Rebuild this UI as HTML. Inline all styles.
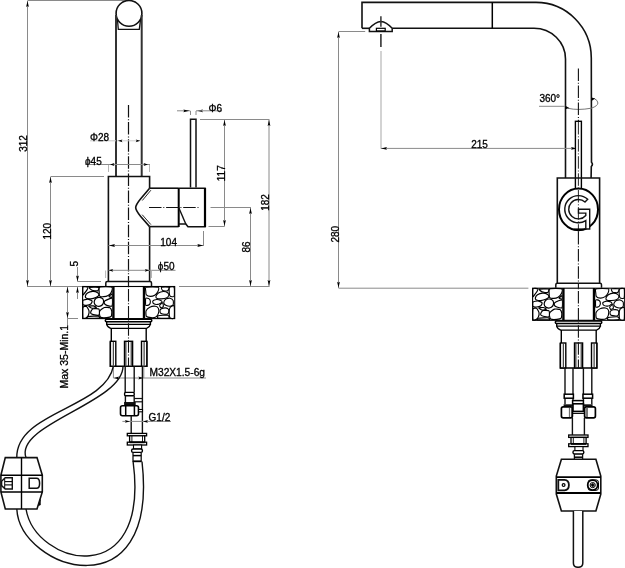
<!DOCTYPE html>
<html><head><meta charset="utf-8"><style>
html,body{margin:0;padding:0;background:#fff;}
svg{display:block;will-change:transform;}
text{font-family:"Liberation Sans",sans-serif;fill:#000;stroke:#000;stroke-width:0.3px;}
</style></head><body>
<svg width="625" height="568" viewBox="0 0 625 568">
<rect width="625" height="568" fill="#fff"/>
<line x1="27.5" y1="0.5" x2="130" y2="0.5" stroke="#8a8a8a" stroke-width="1" />
<line x1="27.5" y1="1" x2="27.5" y2="286.5" stroke="#8a8a8a" stroke-width="1" />
<path d="M27.50,1.00 L26.10,7.00 L27.50,6.00 L28.90,7.00 Z" fill="#000" stroke="none"/>
<path d="M27.50,286.00 L26.10,280.00 L27.50,281.00 L28.90,280.00 Z" fill="#000" stroke="none"/>
<text x="0" y="0" transform="translate(26.8,151.8) rotate(-90)" font-size="10" text-anchor="start">312</text>
<line x1="27" y1="286.5" x2="82" y2="286.5" stroke="#8a8a8a" stroke-width="1" />
<line x1="50.5" y1="176.5" x2="104" y2="176.5" stroke="#8a8a8a" stroke-width="1" />
<line x1="50.5" y1="177" x2="50.5" y2="286.5" stroke="#8a8a8a" stroke-width="1" />
<path d="M50.50,177.00 L49.10,183.00 L50.50,182.00 L51.90,183.00 Z" fill="#000" stroke="none"/>
<path d="M50.50,286.00 L49.10,280.00 L50.50,281.00 L51.90,280.00 Z" fill="#000" stroke="none"/>
<text x="0" y="0" transform="translate(50.5,239.6) rotate(-90)" font-size="10" text-anchor="start">120</text>
<line x1="77.5" y1="267" x2="77.5" y2="281.5" stroke="#8a8a8a" stroke-width="1" />
<path d="M77.50,281.50 L76.10,275.50 L77.50,276.50 L78.90,275.50 Z" fill="#000" stroke="none"/>
<line x1="77.5" y1="281.5" x2="101" y2="281.5" stroke="#8a8a8a" stroke-width="1" />
<line x1="77.5" y1="286.5" x2="77.5" y2="299" stroke="#8a8a8a" stroke-width="1" />
<path d="M77.50,287.00 L76.10,293.00 L77.50,292.00 L78.90,293.00 Z" fill="#000" stroke="none"/>
<text x="0" y="0" transform="translate(77.5,266.5) rotate(-90)" font-size="10" text-anchor="start">5</text>
<line x1="67.5" y1="287" x2="67.5" y2="325" stroke="#8a8a8a" stroke-width="1" />
<path d="M67.50,287.00 L66.10,293.00 L67.50,292.00 L68.90,293.00 Z" fill="#000" stroke="none"/>
<path d="M67.50,318.00 L66.10,312.00 L67.50,313.00 L68.90,312.00 Z" fill="#000" stroke="none"/>
<line x1="67.5" y1="318.5" x2="78" y2="318.5" stroke="#8a8a8a" stroke-width="1" />
<text x="0" y="0" transform="translate(67.8,388.5) rotate(-90)" font-size="10.5" text-anchor="start">Max 35-Min.1</text>
<circle cx="129" cy="13.4" r="12.9" stroke="#111" stroke-width="1.6" fill="#fff"/>
<line x1="116" y1="15" x2="116" y2="176.5" stroke="#333" stroke-width="2" />
<line x1="141.7" y1="15" x2="141.7" y2="176.5" stroke="#333" stroke-width="2" />
<path d="M117.4,19 L118.3,29.3 L139.3,29.3 L140.6,19" stroke="#111" stroke-width="1.3" fill="none" />
<line x1="128.5" y1="105" x2="128.5" y2="286" stroke="#111" stroke-width="1.2" stroke-dasharray="12.5,1.8,1,1.8"/>
<line x1="90" y1="140.8" x2="116" y2="140.8" stroke="#c8c8c8" stroke-width="1" />
<line x1="117" y1="140.8" x2="141" y2="140.8" stroke="#cfcfcf" stroke-width="1" />
<path d="M118.00,140.80 L122.50,139.40 L121.50,140.80 L122.50,142.20 Z" fill="#000" stroke="none"/>
<path d="M140.20,140.80 L135.70,139.40 L136.70,140.80 L135.70,142.20 Z" fill="#000" stroke="none"/>
<text x="90" y="141" font-size="10" text-anchor="start">Φ28</text>
<line x1="85" y1="164.5" x2="150" y2="164.5" stroke="#8a8a8a" stroke-width="1" />
<line x1="108.5" y1="165" x2="108.5" y2="172" stroke="#b5b5b5" stroke-width="1" />
<line x1="149.5" y1="165" x2="149.5" y2="172" stroke="#b5b5b5" stroke-width="1" />
<path d="M110.00,164.50 L114.50,163.10 L113.50,164.50 L114.50,165.90 Z" fill="#000" stroke="none"/>
<path d="M148.00,164.50 L143.50,163.10 L144.50,164.50 L143.50,165.90 Z" fill="#000" stroke="none"/>
<text x="85" y="165" font-size="10" text-anchor="start">ϕ45</text>
<path d="M108.4,281.5 L108.4,176.5 L149.6,176.5 L149.6,188.2" stroke="#111" stroke-width="1.6" fill="none" />
<path d="M149.6,226.6 L149.6,281.5" stroke="#111" stroke-width="1.6" fill="none" />
<path d="M149.6,188.2 L140.5,199 C136.8,203.5 135.7,205.8 135.7,207.6 C135.7,209.5 136.8,211.8 140.5,216.2 L149.6,226.6" stroke="#111" stroke-width="1.6" fill="none" />
<path d="M150.9,190.2 L142.3,200.5" stroke="#111" stroke-width="0.9" fill="none" />
<path d="M142.2,214.7 L150.9,224.6" stroke="#111" stroke-width="0.9" fill="none" />
<path d="M149.6,188.2 L178.7,188.2" stroke="#111" stroke-width="1.6" fill="none" />
<path d="M149.6,226.6 L178.7,226.6" stroke="#111" stroke-width="1.6" fill="none" />
<line x1="178.7" y1="188" x2="178.7" y2="227" stroke="#000" stroke-width="2" />
<path d="M178.7,188.2 L205,188.2 L205,226.8 L188,226.8 L185.8,224 L178.7,224" stroke="#111" stroke-width="1.6" fill="none" />
<line x1="205" y1="188" x2="205" y2="227" stroke="#000" stroke-width="2.2" />
<path d="M178.7,207.5 L185.8,224" stroke="#111" stroke-width="1.4" fill="none" />
<path d="M190.5,187.5 L190.5,119.2 L196,119.2 L196,187.5" stroke="#111" stroke-width="1.5" fill="none" />
<line x1="149" y1="207.5" x2="200" y2="207.5" stroke="#111" stroke-width="1.1" stroke-dasharray="12.5,1.8,1,1.8"/>
<line x1="177" y1="110.8" x2="190.3" y2="110.8" stroke="#8a8a8a" stroke-width="1" />
<path d="M189.30,110.80 L183.30,109.40 L184.30,110.80 L183.30,112.20 Z" fill="#000" stroke="none"/>
<line x1="190.5" y1="111" x2="190.5" y2="115" stroke="#8a8a8a" stroke-width="1" />
<line x1="196" y1="111" x2="196" y2="115" stroke="#8a8a8a" stroke-width="1" />
<path d="M197.00,110.80 L203.00,109.40 L202.00,110.80 L203.00,112.20 Z" fill="#000" stroke="none"/>
<line x1="196" y1="110.8" x2="222" y2="110.8" stroke="#8a8a8a" stroke-width="1" />
<text x="208.5" y="111.8" font-size="10" text-anchor="start">Φ6</text>
<line x1="200" y1="119.5" x2="269.5" y2="119.5" stroke="#8a8a8a" stroke-width="1" />
<line x1="224.5" y1="120" x2="224.5" y2="226.5" stroke="#8a8a8a" stroke-width="1" />
<path d="M224.50,120.00 L223.10,126.00 L224.50,125.00 L225.90,126.00 Z" fill="#000" stroke="none"/>
<path d="M224.50,226.00 L223.10,220.00 L224.50,221.00 L225.90,220.00 Z" fill="#000" stroke="none"/>
<line x1="208.5" y1="226.5" x2="224.5" y2="226.5" stroke="#8a8a8a" stroke-width="1" />
<text x="0" y="0" transform="translate(224.8,181.2) rotate(-90)" font-size="10" text-anchor="start">117</text>
<line x1="269" y1="120" x2="269" y2="286.5" stroke="#8a8a8a" stroke-width="1" />
<path d="M269.00,120.00 L267.60,126.00 L269.00,125.00 L270.40,126.00 Z" fill="#000" stroke="none"/>
<path d="M269.00,286.00 L267.60,280.00 L269.00,281.00 L270.40,280.00 Z" fill="#000" stroke="none"/>
<text x="0" y="0" transform="translate(268.5,210.8) rotate(-90)" font-size="10" text-anchor="start">182</text>
<line x1="210.5" y1="207.5" x2="251" y2="207.5" stroke="#8a8a8a" stroke-width="1" />
<line x1="250.5" y1="208" x2="250.5" y2="286.5" stroke="#8a8a8a" stroke-width="1" />
<path d="M250.50,208.00 L249.10,214.00 L250.50,213.00 L251.90,214.00 Z" fill="#000" stroke="none"/>
<path d="M250.50,286.00 L249.10,280.00 L250.50,281.00 L251.90,280.00 Z" fill="#000" stroke="none"/>
<text x="0" y="0" transform="translate(250.2,252.5) rotate(-90)" font-size="10" text-anchor="start">86</text>
<line x1="179" y1="286.5" x2="269.5" y2="286.5" stroke="#8a8a8a" stroke-width="1" />
<line x1="108.5" y1="245.5" x2="203.8" y2="245.5" stroke="#8a8a8a" stroke-width="1" />
<path d="M109.00,245.50 L115.00,244.10 L114.00,245.50 L115.00,246.90 Z" fill="#000" stroke="none"/>
<path d="M203.30,245.50 L197.30,244.10 L198.30,245.50 L197.30,246.90 Z" fill="#000" stroke="none"/>
<line x1="203.5" y1="231" x2="203.5" y2="246" stroke="#8a8a8a" stroke-width="1" />
<text x="160.3" y="245.8" font-size="10" text-anchor="start">104</text>
<line x1="108.5" y1="270.3" x2="175.5" y2="270.3" stroke="#8a8a8a" stroke-width="1" />
<path d="M108.70,270.30 L113.20,268.90 L112.20,270.30 L113.20,271.70 Z" fill="#000" stroke="none"/>
<path d="M149.30,270.30 L144.80,268.90 L145.80,270.30 L144.80,271.70 Z" fill="#000" stroke="none"/>
<line x1="105.6" y1="270.5" x2="105.6" y2="278" stroke="#b5b5b5" stroke-width="1" />
<line x1="151.5" y1="270.5" x2="151.5" y2="278" stroke="#b5b5b5" stroke-width="1" />
<text x="157.8" y="270.4" font-size="10" text-anchor="start">ϕ50</text>
<path d="M105.8,285.9 L105.8,283 Q105.8,281.5 107.3,281.5 L150,281.5 Q151.5,281.5 151.5,283 L151.5,285.9" stroke="#111" stroke-width="1.5" fill="none" />
<g id="base"><rect x="82.5" y="286.3" width="92.2" height="32.3" fill="#fff" stroke="none"/><path d="M85.31,296.39 C85.40,295.87 86.73,293.50 87.47,293.00 C88.20,292.51 91.68,291.50 92.70,291.47 C93.72,291.43 97.01,292.33 97.63,292.70 C98.24,293.07 99.04,294.67 98.86,295.16 C98.67,295.65 96.58,297.25 95.78,297.62 C94.98,297.99 91.78,298.79 90.85,298.85 C89.93,298.92 87.10,298.49 86.54,298.24 C85.99,297.99 85.22,296.92 85.31,296.39 Z" fill="#fff" stroke="#000" stroke-width="1.2"/><path d="M99.78,287.16 C101.04,286.63 110.65,286.63 111.79,287.16 C112.93,287.68 111.54,291.56 111.17,292.39 C110.80,293.22 108.83,295.04 108.09,295.47 C107.35,295.90 104.61,296.64 103.78,296.70 C102.95,296.76 100.24,296.51 99.78,296.08 C99.32,295.65 99.17,293.28 99.17,292.39 C99.17,291.50 98.52,287.68 99.78,287.16 Z" fill="#fff" stroke="#000" stroke-width="1.2"/><path d="M94.24,301.32 C94.36,300.70 95.56,298.64 96.09,298.24 C96.61,297.84 98.80,297.25 99.47,297.32 C100.15,297.38 102.46,298.33 102.86,298.85 C103.26,299.38 103.63,301.87 103.48,302.55 C103.32,303.23 101.91,305.26 101.32,305.63 C100.74,306.00 98.27,306.37 97.63,306.24 C96.98,306.12 95.19,304.89 94.85,304.40 C94.52,303.90 94.12,301.93 94.24,301.32 Z" fill="#fff" stroke="#000" stroke-width="1.2"/><path d="M99.78,310.86 C100.27,310.18 103.38,307.78 104.40,307.48 C105.42,307.17 109.20,307.38 109.94,307.78 C110.68,308.18 111.67,310.62 111.79,311.48 C111.91,312.34 111.67,315.79 111.17,316.40 C110.68,317.02 107.91,317.54 106.86,317.64 C105.82,317.73 101.44,317.67 100.70,317.33 C99.97,316.99 99.57,314.90 99.47,314.25 C99.38,313.60 99.29,311.54 99.78,310.86 Z" fill="#fff" stroke="#000" stroke-width="1.2"/><path d="M91.16,310.86 C91.41,310.40 92.55,308.89 93.32,308.71 C94.08,308.52 98.24,308.68 98.86,309.01 C99.47,309.35 99.47,311.48 99.47,312.09 C99.47,312.71 99.47,314.93 98.86,315.17 C98.24,315.42 94.12,314.74 93.32,314.56 C92.51,314.37 91.07,313.69 90.85,313.33 C90.64,312.96 90.91,311.32 91.16,310.86 Z" fill="#fff" stroke="#000" stroke-width="1.2"/><path d="M82.97,300.39 C83.45,299.84 86.86,299.10 87.77,299.16 C88.68,299.22 91.78,300.52 92.08,301.01 C92.39,301.50 91.41,303.66 90.85,304.09 C90.30,304.52 87.33,305.26 86.54,305.32 C85.75,305.38 83.33,305.20 82.97,304.70 C82.61,304.21 82.49,300.95 82.97,300.39 Z" fill="#fff" stroke="#000" stroke-width="1.2"/><path d="M82.97,307.48 C83.33,306.34 85.94,306.21 86.54,306.55 C87.15,306.89 88.82,310.00 89.00,310.86 C89.19,311.72 88.70,314.46 88.39,315.17 C88.08,315.88 86.47,317.67 85.93,317.94 C85.38,318.22 83.27,318.99 82.97,317.94 C82.67,316.90 82.61,308.61 82.97,307.48 Z" fill="#fff" stroke="#000" stroke-width="1.2"/><path d="M82.97,286.97 C83.45,286.18 87.35,286.71 87.77,286.97 C88.19,287.24 87.47,289.01 87.16,289.62 C86.85,290.22 85.11,292.48 84.69,293.00 C84.28,293.53 83.14,295.46 82.97,294.85 C82.80,294.25 82.49,287.76 82.97,286.97 Z" fill="#fff" stroke="#000" stroke-width="1.2"/><path d="M89.31,287.46 C89.96,287.17 97.72,287.00 98.55,287.34 C99.38,287.68 98.27,290.56 97.63,290.85 C96.98,291.14 92.92,290.57 92.08,290.23 C91.25,289.90 88.67,287.75 89.31,287.46 Z" fill="#fff" stroke="#000" stroke-width="1.2"/><path d="M105.01,300.70 C105.78,300.18 111.39,297.72 112.10,298.24 C112.80,298.76 112.62,305.23 112.10,305.94 C111.57,306.64 107.63,305.57 106.86,305.32 C106.09,305.07 104.58,303.93 104.40,303.47 C104.21,303.01 104.25,301.23 105.01,300.70 Z" fill="#fff" stroke="#000" stroke-width="1.2"/><path d="M88.39,316.53 C89.47,316.32 97.13,315.94 98.24,316.10 C99.35,316.26 100.55,317.92 99.47,318.13 C98.40,318.33 88.57,318.29 87.47,318.13 C86.36,317.97 87.31,316.73 88.39,316.53 Z" fill="#fff" stroke="#000" stroke-width="1.2"/><path d="M88.70,306.24 C88.82,306.00 92.55,305.69 93.32,305.81 C94.08,305.94 96.52,307.23 96.39,307.48 C96.27,307.72 92.85,308.40 92.08,308.28 C91.31,308.15 88.57,306.49 88.70,306.24 Z" fill="#fff" stroke="#000" stroke-width="1.2"/><path d="M109.02,296.39 C109.02,296.05 111.79,293.84 112.10,293.93 C112.40,294.02 112.40,297.07 112.10,297.32 C111.79,297.56 109.02,296.73 109.02,296.39 Z" fill="#fff" stroke="#000" stroke-width="1.2"/><path d="M146.08,287.16 C147.34,286.75 157.22,286.69 158.39,287.16 C159.56,287.62 158.15,290.97 157.78,291.77 C157.41,292.57 155.44,294.70 154.70,295.16 C153.96,295.62 151.22,296.42 150.39,296.39 C149.56,296.36 146.85,295.38 146.39,294.85 C145.92,294.33 145.80,291.93 145.77,291.16 C145.74,290.39 144.82,287.56 146.08,287.16 Z" fill="#fff" stroke="#000" stroke-width="1.1"/><path d="M155.93,296.39 C156.05,295.84 157.66,293.50 158.39,293.00 C159.13,292.51 162.40,291.50 163.32,291.47 C164.24,291.43 167.08,292.30 167.63,292.70 C168.18,293.10 168.99,294.94 168.86,295.47 C168.74,295.99 167.14,297.59 166.40,297.93 C165.66,298.27 162.40,298.79 161.47,298.85 C160.55,298.92 157.72,298.79 157.16,298.55 C156.61,298.30 155.81,296.95 155.93,296.39 Z" fill="#fff" stroke="#000" stroke-width="1.1"/><path d="M169.60,287.16 C170.09,286.69 173.65,286.23 174.10,287.16 C174.55,288.08 174.50,295.50 174.10,296.39 C173.70,297.28 170.59,296.55 170.09,296.08 C169.60,295.62 169.22,292.67 169.17,291.77 C169.12,290.88 169.11,287.62 169.60,287.16 Z" fill="#fff" stroke="#000" stroke-width="1.1"/><path d="M161.47,287.16 C162.09,286.82 168.25,286.79 168.86,287.16 C169.48,287.52 168.25,290.51 167.63,290.85 C167.01,291.19 163.32,290.91 162.70,290.54 C162.09,290.17 160.86,287.49 161.47,287.16 Z" fill="#fff" stroke="#000" stroke-width="1.1"/><path d="M164.24,301.01 C164.49,300.55 165.81,299.13 166.40,298.85 C166.98,298.58 169.42,298.08 170.09,298.24 C170.77,298.39 172.86,299.75 173.17,300.39 C173.48,301.04 173.48,304.12 173.17,304.70 C172.86,305.29 170.83,306.18 170.09,306.24 C169.35,306.31 166.40,305.60 165.78,305.32 C165.17,305.04 164.09,303.90 163.94,303.47 C163.78,303.04 164.00,301.47 164.24,301.01 Z" fill="#fff" stroke="#000" stroke-width="1.1"/><path d="M145.77,298.24 C146.11,297.59 148.70,298.52 149.16,298.85 C149.62,299.19 150.39,301.04 150.39,301.63 C150.39,302.21 149.62,304.33 149.16,304.70 C148.70,305.07 146.11,305.97 145.77,305.32 C145.43,304.67 145.43,298.89 145.77,298.24 Z" fill="#fff" stroke="#000" stroke-width="1.1"/><path d="M152.85,301.01 C153.16,300.61 155.75,299.53 156.55,299.47 C157.35,299.41 160.30,300.12 160.86,300.39 C161.41,300.67 162.40,301.84 162.09,302.24 C161.78,302.64 158.64,304.27 157.78,304.40 C156.92,304.52 153.96,303.81 153.47,303.47 C152.98,303.13 152.54,301.41 152.85,301.01 Z" fill="#fff" stroke="#000" stroke-width="1.1"/><path d="M146.08,310.86 C146.42,309.94 148.85,307.63 149.77,307.17 C150.70,306.71 154.45,306.12 155.32,306.24 C156.18,306.37 158.09,307.69 158.39,308.40 C158.70,309.11 158.64,312.46 158.39,313.33 C158.15,314.19 156.67,316.59 155.93,317.02 C155.19,317.45 151.96,317.70 151.00,317.64 C150.05,317.57 146.88,317.08 146.39,316.40 C145.89,315.73 145.74,311.79 146.08,310.86 Z" fill="#fff" stroke="#000" stroke-width="1.1"/><path d="M160.24,309.63 C160.55,309.17 162.58,308.21 163.32,308.09 C164.06,307.97 167.08,308.12 167.63,308.40 C168.18,308.68 168.86,310.31 168.86,310.86 C168.86,311.42 168.25,313.63 167.63,313.94 C167.01,314.25 163.44,314.06 162.70,313.94 C161.97,313.82 160.49,313.14 160.24,312.71 C160.00,312.28 159.93,310.09 160.24,309.63 Z" fill="#fff" stroke="#000" stroke-width="1.1"/><path d="M170.09,307.48 C170.59,306.80 173.70,304.89 174.10,305.94 C174.50,306.98 174.50,316.74 174.10,317.94 C173.70,319.14 170.59,318.47 170.09,317.94 C169.60,317.42 169.17,313.76 169.17,312.71 C169.17,311.66 169.60,308.15 170.09,307.48 Z" fill="#fff" stroke="#000" stroke-width="1.1"/><path d="M158.39,315.79 C159.35,315.49 166.58,314.96 167.63,315.17 C168.68,315.39 169.82,317.65 168.86,317.94 C167.91,318.24 159.13,318.34 158.09,318.13 C157.04,317.91 157.44,316.08 158.39,315.79 Z" fill="#fff" stroke="#000" stroke-width="1.1"/><path d="M159.63,305.32 C159.81,304.83 162.33,302.73 162.70,302.86 C163.07,302.98 163.50,306.06 163.32,306.55 C163.14,307.04 161.23,307.91 160.86,307.78 C160.49,307.66 159.44,305.81 159.63,305.32 Z" fill="#fff" stroke="#000" stroke-width="1.1"/><rect x="112.6" y="286.3" width="32" height="32.3" fill="#fff" stroke="none"/><line x1="113.4" y1="286.3" x2="113.4" y2="318.6" stroke="#000" stroke-width="2.4"/><line x1="144" y1="286.3" x2="144" y2="318.6" stroke="#000" stroke-width="2.4"/><rect x="82.6" y="286.5" width="92.1" height="32.1" fill="none" stroke="#000" stroke-width="1.1"/><path d="M106.5,321.8 Q105.3,321.8 105.3,320.6 Q105.3,319.3 106.5,319.3 L150.6,319.3 Q151.8,319.3 151.8,320.6 Q151.8,321.8 150.6,321.8 Z" fill="#fff" stroke="#000" stroke-width="1.5"/><path d="M106.7,321.8 L106.7,324.4 L150.4,324.4 L150.4,321.8" fill="none" stroke="#000" stroke-width="1.4"/><path d="M106.7,324.4 Q107.5,327.5 110.8,328.4 L146.6,328.4 Q149.6,327.5 150.4,324.4" fill="none" stroke="#000" stroke-width="1.4"/><line x1="111.3" y1="328.4" x2="111.3" y2="341.3" stroke="#000" stroke-width="1.4"/><line x1="146.2" y1="328.4" x2="146.2" y2="341.3" stroke="#000" stroke-width="1.4"/><path d="M110.4,341.3 L110.4,366.2 L146.8,366.2 L146.8,341.3" fill="none" stroke="#000" stroke-width="1.5"/><rect x="110.4" y="341.3" width="5.4" height="24.9" fill="#fff" stroke="#000" stroke-width="1.4"/><rect x="124.5" y="341.3" width="8.1" height="24.9" fill="#fff" stroke="#000" stroke-width="1.4"/><rect x="141.5" y="341.3" width="5.3" height="24.9" fill="#fff" stroke="#000" stroke-width="1.4"/><line x1="113.3" y1="342" x2="113.3" y2="365.5" stroke="#000" stroke-width="0.9"/><line x1="125.9" y1="342" x2="125.9" y2="365.5" stroke="#000" stroke-width="0.9"/><line x1="131.2" y1="342" x2="131.2" y2="365.5" stroke="#000" stroke-width="0.9"/><line x1="144.1" y1="342" x2="144.1" y2="365.5" stroke="#000" stroke-width="0.9"/></g>
<use href="#base" transform="translate(450,1.7)"/>
<line x1="128.5" y1="286" x2="128.5" y2="366" stroke="#111" stroke-width="1.1" stroke-dasharray="12.5,1.8,1,1.8" stroke-dashoffset="-3"/>
<line x1="578.4" y1="288" x2="578.4" y2="368" stroke="#111" stroke-width="1.1" stroke-dasharray="12.5,1.8,1,1.8" stroke-dashoffset="-3"/>
<line x1="113.4" y1="366.5" x2="113.4" y2="378" stroke="#8a8a8a" stroke-width="1" />
<line x1="143.8" y1="366.5" x2="143.8" y2="378" stroke="#8a8a8a" stroke-width="1" />
<line x1="113.4" y1="378" x2="206" y2="378" stroke="#8a8a8a" stroke-width="1" />
<path d="M114.00,378.00 L119.00,376.60 L118.00,378.00 L119.00,379.40 Z" fill="#000" stroke="none"/>
<path d="M143.30,378.00 L138.30,376.60 L139.30,378.00 L138.30,379.40 Z" fill="#000" stroke="none"/>
<text x="149.5" y="376" font-size="10.2" text-anchor="start">M32X1.5-6g</text>
<path d="M113.4,366.2 C105.6,408.2 15.9,411.5 16.8,457.6" stroke="#111" stroke-width="1.4" fill="none" />
<path d="M123,366.2 C123.2,402.5 14.1,424.4 26,457.6" stroke="#111" stroke-width="1.4" fill="none" />
<path d="M125.2,366.2 L125.2,392.4" stroke="#111" stroke-width="1.4" fill="none" />
<path d="M134.2,366.2 L134.2,392.4" stroke="#111" stroke-width="1.4" fill="none" />
<rect x="124.6" y="392.4" width="9.6" height="3.4" rx="1" fill="#fff" stroke="#000" stroke-width="1.4"/>
<path d="M125.4,395.8 L125.4,402.6" stroke="#111" stroke-width="1.4" fill="none" />
<path d="M134.2,395.8 L134.2,402.6" stroke="#111" stroke-width="1.4" fill="none" />
<path d="M142.4,366.2 L142.4,433.3" stroke="#111" stroke-width="1.4" fill="none" />
<path d="M134.2,398.5 L142.4,398.5" stroke="#111" stroke-width="1.2" fill="none" />
<path d="M134.2,401.8 L142.4,401.8" stroke="#111" stroke-width="1.2" fill="none" />
<rect x="124.6" y="402.4" width="10.6" height="2.6" fill="#111" stroke="#000" stroke-width="0.8"/>
<rect x="120.5" y="405.8" width="18" height="9.9" rx="2" fill="#fff" stroke="#000" stroke-width="1.6"/>
<line x1="125.7" y1="406" x2="125.7" y2="415.5" stroke="#000" stroke-width="1.5" />
<line x1="134.4" y1="406" x2="134.4" y2="415.5" stroke="#000" stroke-width="1.5" />
<rect x="138.5" y="409.5" width="4" height="2.3" fill="#fff" stroke="#000" stroke-width="1.1"/>
<path d="M131.2,415.7 L131.2,433.3" stroke="#111" stroke-width="1.4" fill="none" />
<line x1="122.4" y1="421.4" x2="171" y2="421.4" stroke="#8a8a8a" stroke-width="1" />
<path d="M129.90,421.40 L124.90,420.00 L125.90,421.40 L124.90,422.80 Z" fill="#000" stroke="none"/>
<path d="M143.00,421.40 L148.00,420.00 L147.00,421.40 L148.00,422.80 Z" fill="#000" stroke="none"/>
<text x="148.6" y="421.1" font-size="10" text-anchor="start">G1/2</text>
<g id="fit">
<rect x="127.3" y="433.4" width="19.3" height="2.4" fill="#fff" stroke="#000" stroke-width="1.3"/>
<rect x="129.6" y="435.8" width="15.1" height="6.4" fill="#fff" stroke="#000" stroke-width="1.3"/>
<line x1="131.9" y1="436" x2="131.9" y2="442" stroke="#000" stroke-width="0.9" />
<line x1="142.5" y1="436" x2="142.5" y2="442" stroke="#000" stroke-width="0.9" />
<rect x="127.3" y="442.2" width="19.3" height="2.8" fill="#fff" stroke="#000" stroke-width="1.3"/>
<line x1="129.6" y1="442.4" x2="144.7" y2="442.4" stroke="#000" stroke-width="1.6" />
<rect x="133.5" y="445" width="8.1" height="4" fill="#fff" stroke="#000" stroke-width="1.1"/>
<rect x="131.6" y="449" width="10.8" height="3.4" rx="1.4" fill="#fff" stroke="#000" stroke-width="1.4"/>
<path d="M133,452.4 L133,462" stroke="#111" stroke-width="1.3" fill="none" />
<path d="M141.2,452.4 L141.2,462" stroke="#111" stroke-width="1.3" fill="none" />
<line x1="133" y1="455.6" x2="141.2" y2="455.6" stroke="#000" stroke-width="1.5" />
<line x1="133" y1="461.3" x2="141.2" y2="461.3" stroke="#000" stroke-width="1.8" />
</g>
<path d="M16.8,509 C20.0,570.2 159.4,614.1 142,461.5" stroke="#111" stroke-width="1.4" fill="none" />
<path d="M26,509 C35.5,565.9 150.6,592.7 133.1,461.5" stroke="#111" stroke-width="1.4" fill="none" />
<path d="M5.3,457.6 L37,457.6 L42.3,475.2 L42.3,492 L37,509 L5.3,509 L0.9,492 L0.9,475.2 Z" stroke="#111" stroke-width="1.6" fill="#fff" />
<line x1="21.5" y1="457.6" x2="21.5" y2="509" stroke="#000" stroke-width="1.4" />
<line x1="0.9" y1="475.2" x2="42.3" y2="475.2" stroke="#000" stroke-width="1.5" />
<line x1="0.9" y1="492" x2="42.3" y2="492" stroke="#000" stroke-width="1.5" />
<path d="M29.2,478.2 L36.5,478.2 Q39.6,478.2 39.6,483.2 Q39.6,488.3 36.5,488.3 L29.2,488.3 Z" stroke="#111" stroke-width="1.5" fill="none" />
<path d="M12.3,477.8 L5.2,477.8 L1.6,481.2 L1.6,485.6 L5.2,489 L12.3,489 Z" stroke="#111" stroke-width="1.4" fill="none" />
<line x1="4.7" y1="478.5" x2="4.7" y2="488.3" stroke="#000" stroke-width="1" />
<line x1="5" y1="481.6" x2="12" y2="481.6" stroke="#000" stroke-width="1.1" />
<line x1="5" y1="484.9" x2="12" y2="484.9" stroke="#000" stroke-width="1.1" />
<path d="M38.2,505.5 L40.3,499.5 L40.3,505 Z" stroke="#111" stroke-width="0.8" fill="#000" />
<path d="M362,28.3 L362,2.4 L536,2.4 A55.4,55.6 0 0 1 591.3,58 L591.5,162.2 Q593.4,164.3 591.3,166.5 L591.1,178" stroke="#111" stroke-width="1.6" fill="none" />
<path d="M369.2,28.3 L362,28.3" stroke="#111" stroke-width="1.6" fill="none" />
<path d="M392.4,28.3 L534,28.3 A31.5,30.7 0 0 1 565.5,59 L565.5,178" stroke="#111" stroke-width="1.6" fill="none" />
<line x1="492.3" y1="2.4" x2="492.3" y2="28.3" stroke="#000" stroke-width="1.5" />
<path d="M369.4,31.4 L392.2,31.4 L392.2,28.3 C389.5,25.3 385,21.6 380.9,21.4 C377,21.6 372.2,25.3 369.4,28.3 Z" stroke="#111" stroke-width="1.5" fill="#fff" />
<rect x="376.4" y="28.3" width="8.8" height="2.6" fill="#fff" stroke="#000" stroke-width="1.2"/>
<line x1="380.9" y1="16.2" x2="380.9" y2="26.7" stroke="#333" stroke-width="1.5" />
<line x1="380.9" y1="34" x2="380.9" y2="47" stroke="#333" stroke-width="1.6" />
<line x1="381" y1="51" x2="381" y2="148.8" stroke="#bcbcbc" stroke-width="1.3" />
<line x1="338.5" y1="31.5" x2="365.2" y2="31.5" stroke="#8a8a8a" stroke-width="1" />
<line x1="338.5" y1="32" x2="338.5" y2="288" stroke="#8a8a8a" stroke-width="1" />
<path d="M338.50,32.00 L337.10,38.00 L338.50,37.00 L339.90,38.00 Z" fill="#000" stroke="none"/>
<path d="M338.50,287.80 L337.10,281.80 L338.50,282.80 L339.90,281.80 Z" fill="#000" stroke="none"/>
<line x1="338.5" y1="288.2" x2="528.4" y2="288.2" stroke="#8a8a8a" stroke-width="1" />
<text x="0" y="0" transform="translate(339,242.5) rotate(-90)" font-size="10" text-anchor="start">280</text>
<line x1="381" y1="148.4" x2="577" y2="148.4" stroke="#8a8a8a" stroke-width="1" />
<path d="M381.00,148.40 L387.00,147.00 L386.00,148.40 L387.00,149.80 Z" fill="#000" stroke="none"/>
<path d="M577.00,148.40 L571.00,147.00 L572.00,148.40 L571.00,149.80 Z" fill="#000" stroke="none"/>
<text x="471.2" y="148.1" font-size="10" text-anchor="start">215</text>
<text x="539.4" y="102.4" font-size="10" text-anchor="start">360°</text>
<line x1="539" y1="106.3" x2="565.5" y2="106.3" stroke="#8a8a8a" stroke-width="1" />
<path d="M568,108.3 Q578,110.6 591.3,108.2 Q597.8,106 597.9,103 Q597.8,100.2 594.5,98.8" stroke="#777" stroke-width="1" fill="none" />
<path d="M565.2,105.7 L565.2,109.2 L569.4,107.9 Z" fill="#000"/>
<path d="M591.5,97.5 L591.5,100.9 L595.3,98.6 Z" fill="#000"/>
<line x1="578.4" y1="68.4" x2="578.4" y2="121" stroke="#111" stroke-width="1.1" stroke-dasharray="12.5,1.8,1,1.8"/>
<rect x="575.4" y="121.3" width="6" height="68" fill="#fff" stroke="#000" stroke-width="1.4"/>
<line x1="578.4" y1="122" x2="578.4" y2="189" stroke="#111" stroke-width="0.9" stroke-dasharray="12.5,1.8,1,1.8"/>
<path d="M557.3,283.3 L557.3,178 L599.6,178 L599.6,283.3" stroke="#111" stroke-width="1.6" fill="none" />
<ellipse cx="578.5" cy="209.4" rx="19.5" ry="20.9" fill="#fff" stroke="#000" stroke-width="2"/>
<path d="M587.7,199.3 A13.6,13.6 0 1 0 585.8,220.6 L585.8,229 L589.7,229 L589.7,209.3 L578.5,209.3 L578.5,213.1 L585.8,213.1 L585.8,215.5 A9.7,9.7 0 1 1 585.0,202.1 Z" stroke="#111" stroke-width="1.4" fill="#fff" />
<line x1="578.4" y1="190" x2="578.4" y2="232" stroke="#111" stroke-width="0.9" stroke-dasharray="12.5,1.8,1,1.8"/>
<line x1="573.5" y1="229.4" x2="583.7" y2="229.4" stroke="#000" stroke-width="2" />
<line x1="578.4" y1="232" x2="578.4" y2="288" stroke="#111" stroke-width="1.1" stroke-dasharray="12.5,1.8,1,1.8"/>
<path d="M555.8,287.7 L555.8,284.8 Q555.8,283.3 557.3,283.3 L600,283.3 Q601.5,283.3 601.5,284.8 L601.5,287.7" stroke="#111" stroke-width="1.5" fill="none" />
<path d="M565,367.9 L565,394.2" stroke="#111" stroke-width="1.4" fill="none" />
<path d="M573,367.9 L573,400.6" stroke="#111" stroke-width="1.4" fill="none" />
<path d="M583.4,367.9 L583.4,400.6" stroke="#111" stroke-width="1.4" fill="none" />
<path d="M591.8,367.9 L591.8,394.2" stroke="#111" stroke-width="1.4" fill="none" />
<path d="M565,398.2 L565,404.2" stroke="#111" stroke-width="1.4" fill="none" />
<path d="M591.8,398.2 L591.8,404.2" stroke="#111" stroke-width="1.4" fill="none" />
<rect x="564.2" y="394.2" width="9.2" height="4" fill="#fff" stroke="#000" stroke-width="1.5"/>
<rect x="583" y="394.2" width="9.6" height="4" fill="#fff" stroke="#000" stroke-width="1.5"/>
<rect x="572.6" y="400.6" width="10.8" height="3.2" fill="#fff" stroke="#000" stroke-width="1.5"/>
<rect x="563.6" y="404.3" width="9.4" height="2.3" fill="#111"/>
<rect x="583.2" y="404.3" width="9.4" height="2.3" fill="#111"/>
<rect x="561.4" y="406.8" width="11" height="11" rx="1.8" fill="#fff" stroke="#000" stroke-width="1.7"/>
<rect x="584.6" y="406.8" width="10.8" height="11" rx="1.8" fill="#fff" stroke="#000" stroke-width="1.7"/>
<line x1="569.4" y1="407.5" x2="569.4" y2="417" stroke="#333" stroke-width="0.8" />
<line x1="571.4" y1="407.5" x2="571.4" y2="417" stroke="#333" stroke-width="0.8" />
<line x1="587" y1="407.5" x2="587" y2="417" stroke="#555" stroke-width="1.6" />
<rect x="573" y="403.8" width="10.4" height="7.6" fill="#fff" stroke="#000" stroke-width="1.6"/>
<line x1="572.4" y1="413.4" x2="584.6" y2="413.4" stroke="#000" stroke-width="1.1" />
<path d="M572.4,417.8 L572.4,434.9" stroke="#111" stroke-width="1.4" fill="none" />
<path d="M584.4,417.8 L584.4,434.9" stroke="#111" stroke-width="1.4" fill="none" />
<use href="#fit" transform="translate(441.4,1.6)"/>
<path d="M561.4,459.3 L595.9,459.3 L600.8,476.1 L600.8,494.1 L595.9,511 L561.4,511 L556.3,494.1 L556.3,476.1 Z" stroke="#111" stroke-width="1.6" fill="#fff" />
<line x1="556.3" y1="477.2" x2="600.8" y2="477.2" stroke="#000" stroke-width="1.8" />
<line x1="556.3" y1="493" x2="600.8" y2="493" stroke="#000" stroke-width="1.8" />
<path d="M558.3,479.9 L564.5,479.9 Q568.9,480.2 568.9,485.1 Q568.9,490.2 564.5,490.4 L558.3,490.4 Z" stroke="#111" stroke-width="1.8" fill="none" />
<circle cx="563.6" cy="485.1" r="1.4" fill="none" stroke="#000" stroke-width="1.2"/>
<rect x="588" y="479.9" width="10.5" height="10.5" rx="2.5" fill="none" stroke="#000" stroke-width="1"/>
<circle cx="592.7" cy="485.1" r="5" fill="#fff" stroke="#000" stroke-width="1.8"/>
<circle cx="592.7" cy="485.1" r="2.6" fill="none" stroke="#000" stroke-width="1"/>
<path d="M592.7,483.3 L594.5,485.1 L592.7,486.9 L590.9,485.1 Z" stroke="#111" stroke-width="0.8" fill="#000" />
<path d="M573.4,511 L573.4,563 Q573.4,567.3 578.1,567.3 Q582.8,567.3 582.8,563 L582.8,511" stroke="#111" stroke-width="1.5" fill="#fff" />
</svg></body></html>
